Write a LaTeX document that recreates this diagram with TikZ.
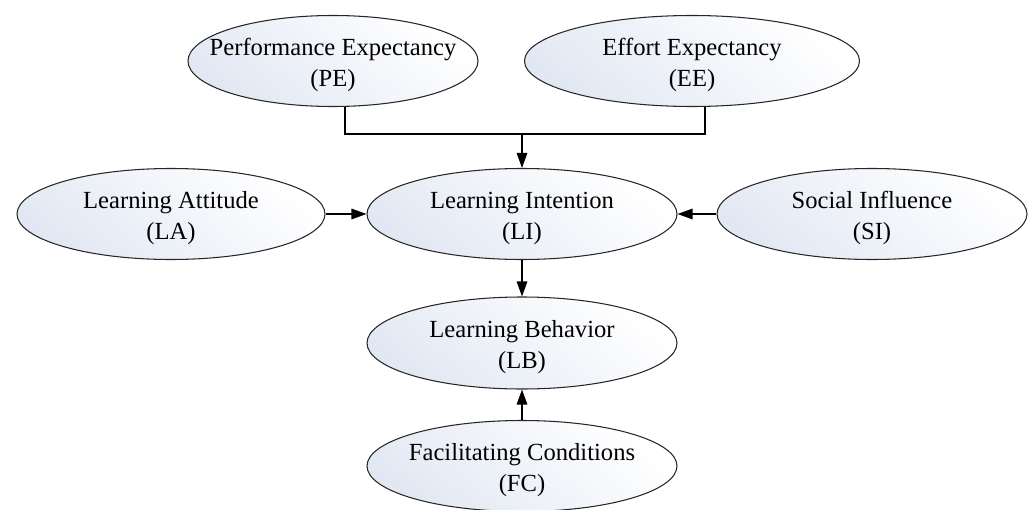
\documentclass[tikz,border=0pt]{standalone}
\usepackage{fontspec}
\setmainfont{Liberation Serif}
\usetikzlibrary{arrows.meta,shapes.geometric}
\definecolor{ellshade}{RGB}{226,232,243}

\begin{document}
\begin{tikzpicture}[
		construct/.style={ellipse, draw=black!85, line width=0.6pt, top color=white, bottom color=ellshade, shading angle=-40,
			inner ysep=0pt, inner xsep=-1.5cm, minimum height=1.82cm, align=center,
			font=\fontsize{14}{17.6}\selectfont, execute at begin node={\rule{0pt}{32pt}}},
		link/.style={line width=0.8pt, -{Triangle[length=0.3cm,width=0.21cm]}}
	]
			%%%%% START %%%%%
			
			\useasboundingbox (0, 0) rectangle (20.58, 10.18);
			
			\node[construct, minimum width=5.8cm] (PE) at (6.66, 8.96) {Performance Expectancy\\(PE)};
			\node[construct, minimum width=6.7cm] (EE) at (13.84, 8.96) {Effort Expectancy\\(EE)};
			
			\node[construct, minimum width=6.16cm] (LA) at (3.42, 5.9) {Learning Attitude\\(LA)};
			\node[construct, minimum width=6.2cm] (LI) at (10.44, 5.9) {Learning Intention\\(LI)};
			\node[construct, minimum width=6.2cm] (SI) at (17.44, 5.9) {Social Influence\\(SI)};
			
			\node[construct, minimum width=6.2cm, minimum height=1.84cm] (LB) at (10.44, 3.32) {Learning Behavior\\(LB)};
			\node[construct, minimum width=6.2cm] (FC) at (10.44, 0.86) {Facilitating Conditions\\(FC)};
			
			\coordinate (jPE) at (6.9, 7.5);
			\coordinate (jEE) at (14.1, 7.5);
			\coordinate (jLI) at (10.44, 7.5);
			
			\draw[line width=0.8pt] (jPE |- PE.south) -- (jPE) -- (jEE) -- (jEE |- EE.south);
			\draw[link] (jLI) -- (LI);
			
			\draw[link] (LA) -- (LI);
			\draw[link] (SI) -- (LI);
			\draw[link] (LI) -- (LB);
			\draw[link] (FC) -- (LB);
			
			%%%%% END %%%%%
\end{tikzpicture}
\end{document}
